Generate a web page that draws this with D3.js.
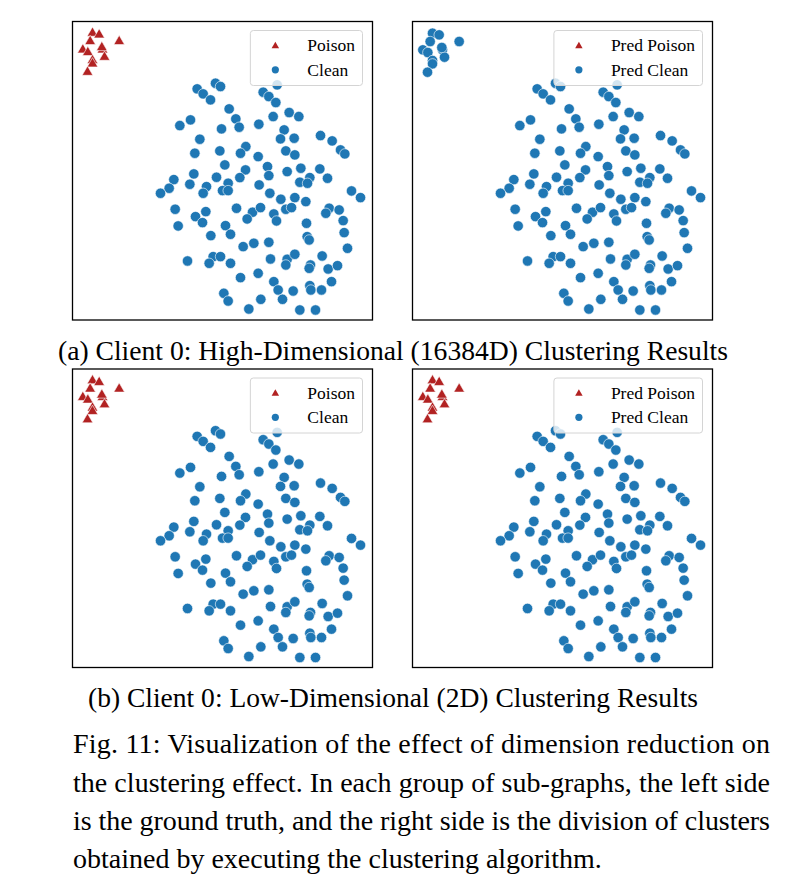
<!DOCTYPE html>
<html>
<head>
<meta charset="utf-8">
<script src="https://cdn.jsdelivr.net/npm/d3@7"></script>
<style>
body{margin:0;background:#fff}
svg{display:block}
</style>
</head>
<body>
<div id="fig"></div>
<script>
// embedding coordinates (same layout in all four panels)
var poisonX=[6.8,8.8,14.8,6.1,3.9,5.4,9.8,10.4,6.8,6.8,5.3,9.6]
var poisonY=[5.5,6.0,8.0,8.0,10.5,11.3,10.5,12.7,13.7,14.7,17.2,9.8]

var cleanX=[43.7,45.2,38.2,40.0,42.2,62.2,58.0,59.7,61.8,47.8,65.8,68.7,61.0,49.8,50.8,36.2,33.0,45.5,56.7,64.3,63.2,67.3,75.2,78.7,39.0,81.2,82.5,52.8,51.2,45.0,37.5,56.5,64.8,67.5,46.5,59.3,59.7,52.7,51.0,65.2,69.3,75.0,37.2,44.0,47.5,45.8,47.5,31.2,29.8,27.2,36.0,41.0,40.0,56.8,69.0,72.0,71.3,77.3,84.5,87.2,60.0,63.3,67.5,70.8,50.0,54.8,57.2,53.2,64.8,66.5,61.2,62.0,31.6,40.8,37.7,39.8,77.8,76.8,80.8,82.0,71.0,32.5,46.7,48.2,42.3,71.2,71.8,82.3,59.7,55.2,52.0,83.3,35.3,43.0,41.8,45.2,48.2,60.2,65.2,64.8,67.5,75.7,72.2,71.8,77.5,80.3,51.2,56.5,61.2,62.5,72.0,72.3,75.5,78.5,67.0,63.8,46.2,47.5,57.3,53.7,69.0,73.7]
var cleanY=[20.5,21.5,22.2,23.7,25.5,21.0,23.2,24.5,26.3,28.2,29.3,30.5,30.5,31.2,33.7,31.5,33.2,34.2,32.8,34.5,37.2,37.0,36.2,37.8,37.3,40.5,41.7,39.5,41.5,40.8,41.5,42.5,40.8,42.0,45.0,45.5,48.2,46.5,48.8,47.0,46.0,46.2,47.7,48.7,50.5,52.7,52.7,49.4,52.0,53.5,50.8,51.5,53.5,51.0,50.2,48.8,50.5,49.0,52.8,54.8,53.5,55.3,54.8,56.0,58.0,59.2,57.8,61.2,58.3,57.8,59.7,61.8,58.3,59.0,60.5,62.3,58.0,59.5,58.5,61.7,62.5,63.3,63.2,65.8,66.2,66.5,67.5,65.3,68.2,68.5,69.5,70.0,73.8,72.5,74.5,72.5,74.5,73.2,73.3,75.0,71.8,72.3,75.0,76.0,76.2,75.2,78.8,77.5,80.0,82.5,81.2,82.5,82.5,80.0,82.8,85.3,83.5,85.8,85.3,88.2,88.5,88.5]

var panelLabels=[["Poison","Clean"],["Pred Poison","Pred Clean"],["Poison","Clean"],["Pred Poison","Pred Clean"]]
// does the panel draw the poison cluster as triangles (true) or as clean circles (false)
var poisonFound=[true,false,true,true]
var subCaptions=["(a) Client 0: High-Dimensional (16384D) Clustering Results","(b) Client 0: Low-Dimensional (2D) Clustering Results"]
var figCaption=["Fig. 11: Visualization of the effect of dimension reduction on",
"the clustering effect. In each group of sub-graphs, the left side",
"is the ground truth, and the right side is the division of clusters",
"obtained by executing the clustering algorithm."]

var blue="#1f77b4", red="#b22222"
var serif="'Liberation Serif','Times New Roman',Times,serif"
var W=785, H=891
var pw=300, ph=298.5
var origins=[[72.5,21.5],[412.5,21.5],[72.5,369],[412.5,369]]

var svg=d3.select('#fig').append('svg').attr('width',W).attr('height',H)
svg.append('rect').attr('width',W).attr('height',H).attr('fill','#fff')

var xs=d3.scaleLinear().domain([0.8,90.8]).range([0,pw])
var ys=d3.scaleLinear().domain([2.0,91.5]).range([0,ph])

var clean=cleanX.map(function(d,i){return {x:d,y:cleanY[i]}})
var poison=poisonX.map(function(d,i){return {x:d,y:poisonY[i]}})

var tri=d3.symbol().type(d3.symbolTriangle).size(50)
var triLegend=d3.symbol().type(d3.symbolTriangle).size(24)

origins.forEach(function(o,p){
    var g=svg.append('g').attr('transform','translate('+o[0]+','+o[1]+')')

    g.selectAll('.clean').data(clean).enter().append('circle')
    .attr('class','clean')
    .attr('cx',function(d){return xs(d.x)})
    .attr('cy',function(d){return ys(d.y)})
    .attr('r',5.2)
    .attr('fill',blue)
    .attr('stroke','#fff').attr('stroke-width',0.6)

    if(poisonFound[p]){
        g.selectAll('.poison').data(poison).enter().append('path')
        .attr('class','poison')
        .attr('d',tri)
        .attr('transform',function(d){return 'translate('+xs(d.x)+','+ys(d.y)+')'})
        .attr('fill',red)
        .attr('stroke','#fff').attr('stroke-width',0.6)
    }else{
        g.selectAll('.poison').data(poison).enter().append('circle')
        .attr('class','poison')
        .attr('cx',function(d){return xs(d.x)})
        .attr('cy',function(d){return ys(d.y)})
        .attr('r',5.2)
        .attr('fill',blue)
        .attr('stroke','#fff').attr('stroke-width',0.6)
    }

    // legend
    var lg=g.append('g')
    var box=lg.append('rect').attr('rx',3).attr('ry',3)
    .attr('fill','#fff').attr('fill-opacity',0.8)
    .attr('stroke','#d4d4d4').attr('stroke-width',1)
    var t1=lg.append('text').attr('x',57).attr('y',24).attr('dy','0.33em')
    .attr('font-family',serif).attr('font-size',17.5).text(panelLabels[p][0])
    var t2=lg.append('text').attr('x',57).attr('y',48.3).attr('dy','0.33em')
    .attr('font-family',serif).attr('font-size',17.5).text(panelLabels[p][1])
    var tw=Math.max(t1.node().getComputedTextLength(),t2.node().getComputedTextLength())
    var bw=57+tw+7.5
    var lx=pw-10-bw
    box.attr('x',0).attr('y',9).attr('width',bw).attr('height',55)
    lg.append('path').attr('d',triLegend).attr('transform','translate(25,24.5)').attr('fill',red)
    lg.append('circle').attr('cx',25).attr('cy',48.3).attr('r',3.6).attr('fill',blue)
    lg.attr('transform','translate('+lx+',0)')

    g.append('rect').attr('width',pw).attr('height',ph)
    .attr('fill','none').attr('stroke','#000').attr('stroke-width',1.3)
})

// sub-figure captions
svg.append('text').attr('x',58).attr('y',359.5).attr('font-family',serif).attr('font-size',27.5)
.attr('textLength',670).attr('lengthAdjust','spacingAndGlyphs').text(subCaptions[0])
svg.append('text').attr('x',88).attr('y',707).attr('font-family',serif).attr('font-size',27.5)
.attr('textLength',610).attr('lengthAdjust','spacingAndGlyphs').text(subCaptions[1])

// figure caption, justified except the last line
var lineY=[753,791.5,830,868]
figCaption.forEach(function(s,i){
    var t=svg.append('text').attr('x',73).attr('y',lineY[i])
    .attr('font-family',serif).attr('font-size',28).text(s)
    if(i<figCaption.length-1) t.attr('textLength',697).attr('lengthAdjust','spacing')
})
</script>
</body>
</html>
